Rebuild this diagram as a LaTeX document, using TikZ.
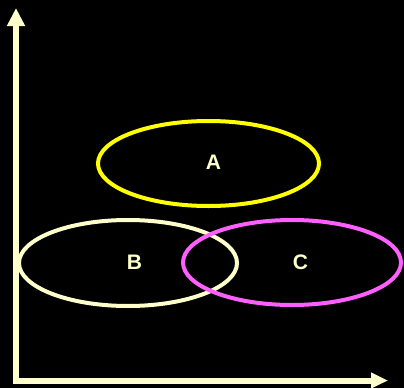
\documentclass[tikz,border=0pt]{standalone}
\usepackage{fontspec}
\setmainfont{Liberation Sans}
\usetikzlibrary{arrows.meta}

\definecolor{crema}{HTML}{FFFFCC}
\definecolor{amarillo}{HTML}{FFFF00}
\definecolor{rosa}{HTML}{FF5FFF}

\begin{document}
\begin{tikzpicture}[x=1pt,y=-1pt,
    eje/.style={draw=crema, line width=6pt, line join=miter,
      {Triangle[width=17pt,length=18pt]}-{Triangle[width=15pt,length=17pt]}},
    conjunto/.style={line width=4pt},
    etiqueta/.style={text=crema, font=\fontsize{21}{21}\selectfont\bfseries, inner sep=0pt}]
				% Fondo
				\fill[black] (0,0) rectangle (404,388);
				\useasboundingbox (0,0) rectangle (404,388);
				
				% Ejes
				\coordinate (origen) at (16,380.5);
				\coordinate (puntaY) at (16,8);
				\coordinate (puntaX) at (388,380.5);
				\draw[eje] (puntaY) -- (origen) -- (puntaX);
				
				% Elipses de los conjuntos
				\draw[conjunto, amarillo] (208.5,163.5) ellipse [x radius=110.5pt, y radius=42.5pt];  % A
				\draw[conjunto, crema] (128,263) ellipse [x radius=109pt, y radius=43pt];             % B
				\draw[conjunto, rosa] (292,262.5) ellipse [x radius=109pt, y radius=42.5pt];          % C
				
				% Etiquetas de los conjuntos
				\node[etiqueta] (labA) at (213.5,162) {A};
				\node[etiqueta] (labB) at (134.5,262) {B};
				\node[etiqueta] (labC) at (300.5,262) {C};
\end{tikzpicture}
\end{document}
